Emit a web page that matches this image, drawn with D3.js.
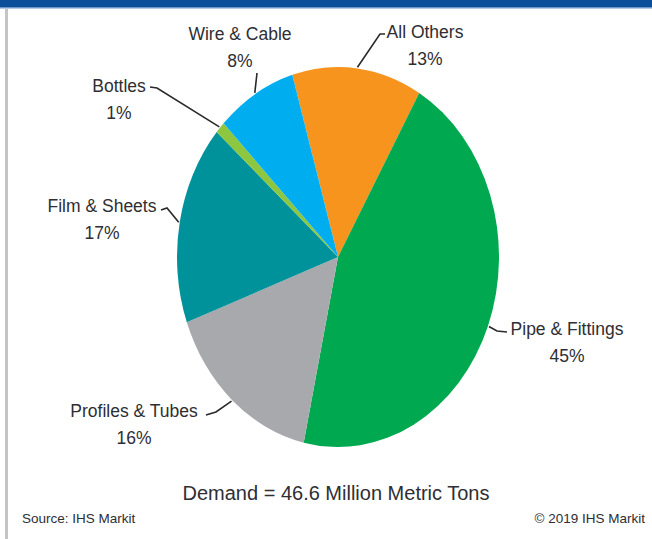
<!DOCTYPE html>
<html>
<head>
<meta charset="utf-8">
<script src="https://cdn.jsdelivr.net/npm/d3@7"></script>
<style>
  html, body { margin: 0; padding: 0; background: #ffffff; }
  svg { display: block; }
  text { font-family: "Liberation Sans", Arial, sans-serif; fill: #2e2e33; }
</style>
</head>
<body>
<svg id="chart" width="652" height="539"></svg>
<script>
// PVC demand by end use (share of total, %)
const categories = ["All Others", "Pipe & Fittings", "Profiles & Tubes", "Film & Sheets", "Bottles", "Wire & Cable"];
const shares = [13, 45, 16, 17, 1, 8];
const colors = ["#f7941e", "#00a94f", "#a8a9ad", "#00929b", "#8dc63f", "#00aeef"];
const totalLabel = "Demand = 46.6 Million Metric Tons";
const sourceLabel = "Source: IHS Markit";
const copyrightLabel = "\u00a9 2019 IHS Markit";

const data = categories.map((c, i) => ({ name: c, value: shares[i], color: colors[i] }));

const svg = d3.select("#chart");
const W = 652, H = 539;

// header band and left rule
svg.append("rect").attr("x", 0).attr("y", 0).attr("width", W).attr("height", 7).attr("fill", "#0b4f9a");
svg.append("rect").attr("x", 0).attr("y", 7).attr("width", W).attr("height", 1.5).attr("fill", "#6f97c8");
svg.append("rect").attr("x", 5).attr("y", 9).attr("width", 3).attr("height", H - 9).attr("fill", "#c4c4c4");

// pie geometry (drawn as a circle and stretched vertically)
const cx = 338, cy = 257, rx = 161, ry = 190;
const sy = ry / rx;
const deg = Math.PI / 180;
const start = -16.5 * deg;

const pie = d3.pie().sort(null).value(d => d.value)
  .startAngle(start).endAngle(start + 2 * Math.PI);
const arcs = pie(data);
const arc = d3.arc().innerRadius(0).outerRadius(rx);

const g = svg.append("g").attr("transform", `translate(${cx},${cy}) scale(1,${sy})`);
g.selectAll("path").data(arcs).join("path")
  .attr("d", arc)
  .attr("fill", d => d.data.color);

// label layout: text centre, baseline, and leader bend points
const layout = {
  "All Others":       { x: 425, y: 38,  leg: [[380, 34], [385, 34]] },
  "Pipe & Fittings":  { x: 567, y: 335, leg: [[497, 331], [507, 332]] },
  "Profiles & Tubes": { x: 134, y: 417, leg: [[216, 412], [206, 415]] },
  "Film & Sheets":    { x: 102, y: 212, leg: [[167, 208], [161, 210]] },
  "Bottles":          { x: 119, y: 92,  leg: [[157, 88], [150, 87]] },
  "Wire & Cable":     { x: 240, y: 40,  leg: [[257, 73]] }
};

const line = d3.line();
arcs.forEach(a => {
  const L = layout[a.data.name];
  const mid = (a.startAngle + a.endAngle) / 2;
  const edge = [cx + (rx + 1) * Math.sin(mid), cy - (rx + 1) * Math.cos(mid) * sy];
  svg.append("path")
    .attr("d", line([edge, ...L.leg]))
    .attr("fill", "none")
    .attr("stroke", "#2a2a2a")
    .attr("stroke-width", 1.6);
  svg.append("text")
    .attr("x", L.x).attr("y", L.y)
    .attr("text-anchor", "middle")
    .style("font-size", "17.5px")
    .text(a.data.name);
  svg.append("text")
    .attr("x", L.x).attr("y", L.y + 27)
    .attr("text-anchor", "middle")
    .style("font-size", "17.5px")
    .text(a.data.value + "%");
});

// footer
svg.append("text")
  .attr("x", 336).attr("y", 500)
  .attr("text-anchor", "middle")
  .style("font-size", "20px")
  .text(totalLabel);
svg.append("text")
  .attr("x", 22).attr("y", 523)
  .style("font-size", "13.5px")
  .text(sourceLabel);
svg.append("text")
  .attr("x", 645).attr("y", 523)
  .attr("text-anchor", "end")
  .style("font-size", "13.5px")
  .text(copyrightLabel);
</script>
</body>
</html>
